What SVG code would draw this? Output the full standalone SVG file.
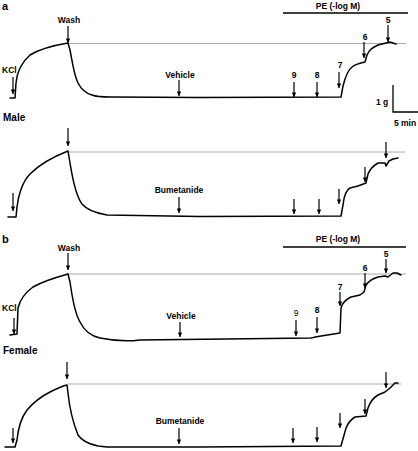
<svg xmlns="http://www.w3.org/2000/svg" width="418" height="451" viewBox="0 0 418 451">
<defs>
<marker id="ah" viewBox="0 0 10 10" refX="10" refY="5" markerWidth="6" markerHeight="4.6" markerUnits="userSpaceOnUse" orient="auto">
<path d="M0,0 L10,5 L0,10 z" fill="#000"/>
</marker>
</defs>
<style>
.t{font-family:"Liberation Sans",Arial,sans-serif;font-weight:bold;font-size:8.5px;fill:#000}
.n{font-family:"Liberation Sans",Arial,sans-serif;font-weight:normal;font-size:8.5px;fill:#000}
.big{font-family:"Liberation Sans",Arial,sans-serif;font-weight:bold;font-size:11px;fill:#000}
.sex{font-family:"Liberation Sans",Arial,sans-serif;font-weight:bold;font-size:10px;fill:#000}
.m{text-anchor:middle}
.tr{fill:none;stroke:#000;stroke-width:1.5;stroke-linejoin:round;stroke-linecap:round}
.ref{fill:none;stroke:#aaa;stroke-width:1}
.ar{stroke:#000;stroke-width:1.2;marker-end:url(#ah)}
.bar{stroke:#000;stroke-width:1.3;fill:none}
</style>
<rect width="418" height="451" fill="#fff"/>

<g id="panel-a-vehicle">
<text class="big" x="2" y="10">a</text>
<text class="t m" x="338" y="9">PE (-log M)</text>
<line class="bar" x1="283" y1="13" x2="408" y2="13"/>
<line class="ref" x1="68" y1="43.5" x2="406" y2="43.5"/>
<path class="tr" d="M10,98 L15,98 L16,83 C17,72 22,62 30,55 C38,50 50,46 68,43 L70,50 C72,60 74,75 78,83 C81,89 85,93 92,95 C97,97 100,97 110,97 L200,97.5 L341,97 L343,86 C345,78 348,70 352,67 C356,64 360,63 365,62 L367,55 C369,50 372,48 378,45 L386,43 L390,42 L393,43 L396,44"/>
<text class="t" x="2" y="73">KCl</text>
<text class="t m" x="69" y="23">Wash</text>
<text class="t m" x="180" y="78">Vehicle</text>
<text class="t m" x="294" y="78">9</text>
<text class="t m" x="317" y="78">8</text>
<text class="t m" x="340" y="68">7</text>
<text class="t m" x="365" y="40">6</text>
<text class="t m" x="388" y="23">5</text>
<line class="ar" x1="13" y1="77" x2="13" y2="94"/>
<line class="ar" x1="68" y1="26" x2="68" y2="43"/>
<line class="ar" x1="179" y1="80" x2="179" y2="96"/>
<line class="ar" x1="294" y1="82" x2="294" y2="97"/>
<line class="ar" x1="317" y1="82" x2="317" y2="97"/>
<line class="ar" x1="339" y1="72" x2="339" y2="88"/>
<line class="ar" x1="364" y1="42" x2="364" y2="58"/>
<line class="ar" x1="388" y1="25" x2="388" y2="42"/>
</g>

<g id="scale-bar">
<path class="bar" d="M393,85 L393,112 L418,112"/>
<text class="t" x="376" y="105">1 g</text>
<text class="t m" x="405" y="126">5 min</text>
</g>

<g id="panel-a-bumetanide">
<text class="sex" x="3" y="121">Male</text>
<line class="ref" x1="68" y1="152" x2="405" y2="152"/>
<path class="tr" d="M8,217 L16,217 L17,207 C18,197 22,182 30,174 C38,166 50,158 68,151 L70,163 C72,175 75,195 82,204 C87,210 95,213 107,215 L200,216.5 L341,216 L343,205 C344,196 346,190 350,188 L358,186 L366,183 L368,174 C370,169 373,166 378,163 L385,163 L386,166 L389,161 L393,159 L398,158"/>
<text class="t m" x="179" y="193">Bumetanide</text>
<line class="ar" x1="13" y1="193" x2="13" y2="211"/>
<line class="ar" x1="68" y1="128" x2="68" y2="146"/>
<line class="ar" x1="179" y1="197" x2="179" y2="213"/>
<line class="ar" x1="294" y1="199" x2="294" y2="214"/>
<line class="ar" x1="319" y1="199" x2="319" y2="214"/>
<line class="ar" x1="339" y1="189" x2="339" y2="204"/>
<line class="ar" x1="365" y1="167" x2="365" y2="182"/>
<line class="ar" x1="386" y1="142" x2="386" y2="158"/>
</g>

<g id="panel-b-vehicle">
<text class="big" x="2" y="243">b</text>
<text class="t m" x="338" y="242">PE (-log M)</text>
<line class="bar" x1="283" y1="247" x2="406" y2="247"/>
<line class="ref" x1="68" y1="274" x2="406" y2="274"/>
<path class="tr" d="M10,335 L17,334 L18,308 C20,300 26,292 33,287 C40,283 50,279 68,274 L70,282 C72,295 74,312 80,322 C84,330 90,336 100,338 C110,340 125,342 140,340 L311,338 L318,336.5 L340,333 L341,308 C342,303 345,300 351,297 L360,295 L364,292 L366,285 C368,282 372,279 378,277 L385,276 L388,277 L393,273 L397,273 L401,275"/>
<text class="t" x="2" y="311">KCl</text>
<text class="t m" x="69" y="251">Wash</text>
<text class="t m" x="181" y="319">Vehicle</text>
<text class="n m" x="296" y="316">9</text>
<text class="t m" x="317" y="313">8</text>
<text class="t m" x="340" y="290">7</text>
<text class="t m" x="365" y="271">6</text>
<text class="t m" x="386" y="257">5</text>
<line class="ar" x1="14" y1="318" x2="14" y2="334"/>
<line class="ar" x1="68" y1="253" x2="68" y2="270"/>
<line class="ar" x1="180" y1="322" x2="180" y2="337"/>
<line class="ar" x1="296" y1="320" x2="296" y2="336"/>
<line class="ar" x1="317" y1="317" x2="317" y2="333"/>
<line class="ar" x1="340" y1="292" x2="340" y2="306"/>
<line class="ar" x1="365" y1="273" x2="365" y2="288"/>
<line class="ar" x1="386" y1="259" x2="386" y2="273"/>
</g>

<g id="panel-b-bumetanide">
<text class="sex" x="3" y="354">Female</text>
<line class="ref" x1="68" y1="384" x2="401" y2="384"/>
<path class="tr" d="M5,447 L15,447 L17,440 C18,430 21,418 27,410 C33,403 42,396 50,392 C56,389 62,386 67,385 L68,393 C69,403 72,420 78,435 C82,441 88,444 98,446 L107,447 L200,447 L341,446 L346,428 C348,423 350,420 355,417 L366,416 L368,408 C370,402 373,398 378,395 L385,392 L390,388 L395,383 L398,383"/>
<text class="t m" x="180" y="424">Bumetanide</text>
<line class="ar" x1="13" y1="428" x2="13" y2="443"/>
<line class="ar" x1="67" y1="362" x2="67" y2="379"/>
<line class="ar" x1="179" y1="428" x2="179" y2="444"/>
<line class="ar" x1="293" y1="428" x2="293" y2="443"/>
<line class="ar" x1="317" y1="427" x2="317" y2="442"/>
<line class="ar" x1="340" y1="413" x2="340" y2="428"/>
<line class="ar" x1="365" y1="399" x2="365" y2="414"/>
<line class="ar" x1="386" y1="372" x2="386" y2="388"/>
</g>
</svg>
